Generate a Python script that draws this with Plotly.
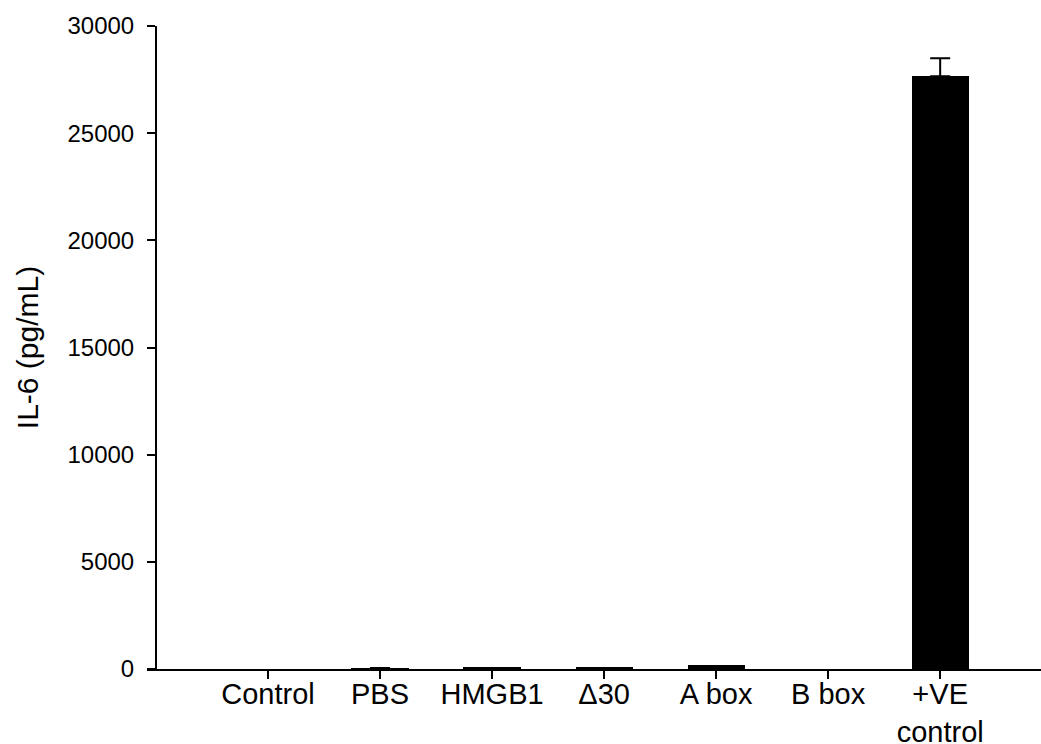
import plotly.graph_objects as go

categories = ["Control", "PBS", "HMGB1", "Δ30", "A box", "B box", "+VE<br>control"]
il6_values = [0, 20, 110, 100, 190, 0, 27650]
il6_errors = [0, 30, 0, 0, 0, 0, 850]
y_tick_values = [0, 5000, 10000, 15000, 20000, 25000, 30000]
y_tick_labels = ["0", "5000", "10000", "15000", "20000", "25000", "30000"]

FONT = "Liberation Sans, Arial, sans-serif"

xs = list(range(len(categories)))
err_idx = [i for i, e in enumerate(il6_errors) if e > 0]

fig = go.Figure()
fig.add_trace(go.Bar(
    x=xs,
    y=il6_values,
    width=0.51,
    marker=dict(color="black", line=dict(width=0)),
    showlegend=False,
))
fig.add_trace(go.Scatter(
    x=[xs[i] for i in err_idx],
    y=[il6_values[i] for i in err_idx],
    mode="markers",
    marker=dict(size=1, opacity=0),
    error_y=dict(type="data", symmetric=False,
                 array=[il6_errors[i] for i in err_idx],
                 arrayminus=[0 for _ in err_idx],
                 color="black", thickness=2, width=10),
    showlegend=False,
    hoverinfo="skip",
))

fig.update_layout(
    width=1041, height=744,
    margin=dict(l=147, r=0, t=26, b=75),
    plot_bgcolor="white", paper_bgcolor="white",
    font=dict(family=FONT, color="black"),
    bargap=0,
)
fig.update_xaxes(
    range=[-1.08, 6.90],
    tickmode="array",
    tickvals=xs,
    ticktext=categories,
    ticks="outside", ticklen=8, tickwidth=2, tickcolor="black",
    ticklabelstandoff=-10,
    showline=True, linecolor="black", linewidth=2,
    showgrid=False, zeroline=False, automargin=False,
    tickfont=dict(size=29, family=FONT, color="black"),
)
fig.update_yaxes(
    range=[0, 30000],
    anchor="free", position=9 / 894,
    tickmode="array", tickvals=y_tick_values, ticktext=y_tick_labels,
    ticks="outside", ticklen=8, tickwidth=2, tickcolor="black",
    ticklabelstandoff=8,
    showline=True, linecolor="black", linewidth=2,
    showgrid=False, zeroline=False, automargin=False,
    tickfont=dict(size=24, family=FONT, color="black"),
    title=dict(text="IL-6 (pg/mL)", font=dict(size=30, family=FONT, color="black"), standoff=19),
)

fig.write_html("out.html")
